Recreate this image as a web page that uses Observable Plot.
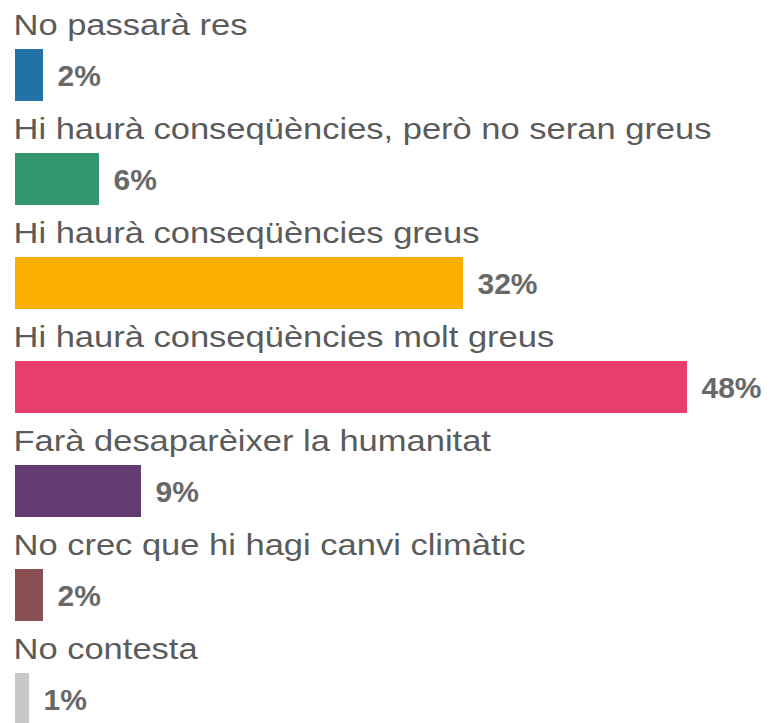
<!DOCTYPE html>
<html>
<head>
<meta charset="utf-8">
<script src="https://cdn.jsdelivr.net/npm/d3@7"></script>
<script src="https://cdn.jsdelivr.net/npm/@observablehq/plot@0.6"></script>
<style>
  html, body { margin: 0; padding: 0; background: #fff; overflow: hidden; }
  #chart svg { display: block; }
</style>
</head>
<body>
<div id="chart"></div>
<script>
const categories = [
  "No passarà res",
  "Hi haurà conseqüències, però no seran greus",
  "Hi haurà conseqüències greus",
  "Hi haurà conseqüències molt greus",
  "Farà desaparèixer la humanitat",
  "No crec que hi hagi canvi climàtic",
  "No contesta"
];
const values = [2, 6, 32, 48, 9, 2, 1];
const valueLabels = ["2%", "6%", "32%", "48%", "9%", "2%", "1%"];

const COLORS = ["#2272a7", "#33966f", "#f9ae00", "#e83e6d", "#633c71", "#8a4f53", "#c8c8c8"];

const data = categories.map((c, i) => ({category: c, value: values[i], label: valueLabels[i]}));

const chart = Plot.plot({
  width: 772,
  height: 723,
  marginTop: 0,
  marginBottom: 0,
  marginLeft: 0,
  marginRight: 0,
  style: {fontFamily: "'Liberation Sans', Arial, sans-serif", background: "#fff", overflow: "hidden"},
  x: {domain: [0, 48], range: [15, 687], axis: null},
  y: {domain: categories, range: [47, 727.3], paddingInner: 0.5, paddingOuter: 0, axis: null},
  color: {domain: categories, range: COLORS},
  marks: [
    Plot.text(data, {
      x: 0, y: "category", text: "category",
      textAnchor: "start", lineAnchor: "middle",
      dx: -2, dy: -50,
      fontSize: 29, fill: "#5b5b5b"
    }),
    Plot.barX(data, {x: "value", y: "category", fill: "category"}),
    Plot.text(data, {
      x: "value", y: "category", text: "label",
      textAnchor: "start", lineAnchor: "middle",
      dx: 14, dy: 1,
      fontSize: 30, fontWeight: "bold", fill: "#686868"
    })
  ]
});

// horizontal stretch of the category labels to match the reference typography
const groups = chart.querySelectorAll('g[aria-label="text"]');
if (groups.length) {
  groups[0].querySelectorAll("text").forEach(t => {
    const tr = t.getAttribute("transform") || "";
    t.setAttribute("transform", tr + " scale(1.19,1)");
  });
}
document.getElementById("chart").appendChild(chart);
</script>
</body>
</html>
